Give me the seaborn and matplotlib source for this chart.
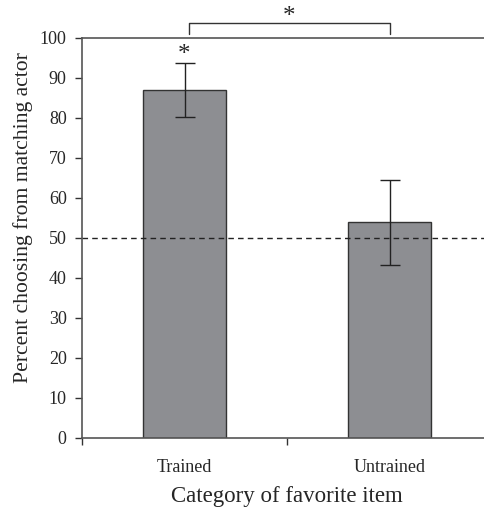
import matplotlib
matplotlib.use("Agg")
import matplotlib.pyplot as plt
import seaborn as sns
import pandas as pd
import numpy as np

categories = ["Trained", "Untrained"]
values = [87.0, 54.0]
err_low = [6.8, 10.7]
err_high = [6.8, 10.5]
yticks = list(range(0, 101, 10))

sns.set_style("white")
plt.rcParams['font.family'] = ['Liberation Serif', 'DejaVu Serif']

fig = plt.figure(figsize=(4.85, 5.12), dpi=100)
ax = fig.add_axes([82/485, 74/512, 410/485, 400/512])

df = pd.DataFrame({"cat": categories, "val": values})
sns.barplot(data=df, x="cat", y="val", ax=ax, color="#8d8e92", width=0.405,
            edgecolor="#333333", linewidth=1.0, saturation=1)
ax.errorbar(range(len(categories)), values, yerr=[err_low, err_high], fmt="none",
            ecolor="#222222", elinewidth=1.0, capsize=7, capthick=1.0)

ax.axhline(50, color="#222222", linestyle=(0, (4, 3)), linewidth=1.0)

ax.set_xlim(-0.5, 1.5)
ax.set_ylim(0, 100)
ax.set_yticks(yticks)
ax.set_yticklabels([str(t) for t in yticks], fontsize=13)
ax.set_xticks(range(len(categories)))
ax.set_xticklabels(categories, fontsize=13)
ax.set_xticks([-0.5, 0.5, 1.5], minor=True)
ax.tick_params(axis="x", which="major", length=0, pad=15, bottom=False)
ax.tick_params(axis="x", which="minor", length=5, width=1, direction="out",
               color="#333333", bottom=True)
ax.tick_params(axis="y", length=5, width=1, direction="out", color="#333333",
               left=True, pad=6)

for s in ["left", "bottom", "top"]:
    ax.spines[s].set_color("#555555")
    ax.spines[s].set_linewidth(1.2)
ax.spines["right"].set_visible(False)

ax.set_xlabel("Category of favorite item", fontsize=16.5, labelpad=7)
ax.set_ylabel("Percent choosing from matching actor", fontsize=15.6)
ax.yaxis.set_label_coords(-0.12, 0.55)

# significance markers
ax.text(0, 95.8, "*", ha="center", va="center", fontsize=18)
ax.plot([0.02, 0.02, 1.0, 1.0], [101, 103.8, 103.8, 101], color="#333333",
        linewidth=1.0, clip_on=False)
ax.text(0.51, 105.2, "*", ha="center", va="center", fontsize=18)

fig.savefig("out.png", dpi=100)
